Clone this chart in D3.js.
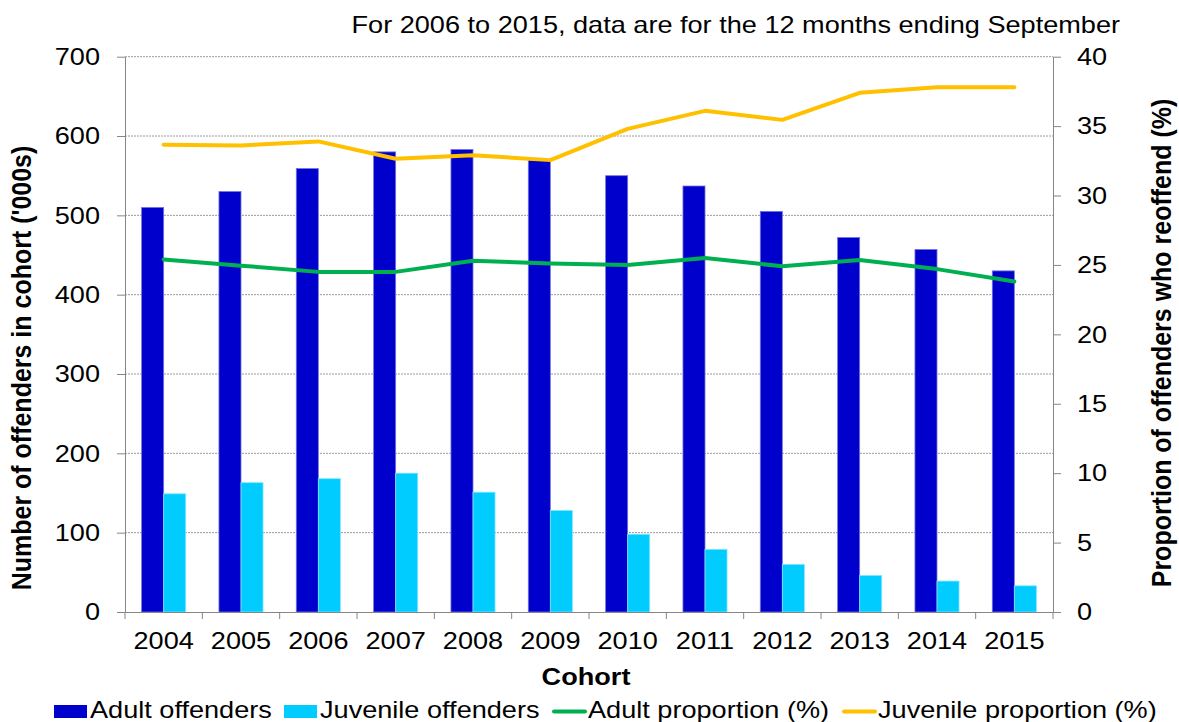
<!DOCTYPE html>
<html>
<head>
<meta charset="utf-8">
<script src="https://cdn.jsdelivr.net/npm/d3@7"></script>
<style>
  body { margin: 0; background: #fff; }
  svg text { font-family: "Liberation Sans", Arial, sans-serif; fill: #000; }
</style>
</head>
<body>
<svg id="chart" width="1179" height="722"></svg>
<script>
// cohort years
const years = ["2004", "2005", "2006", "2007", "2008", "2009", "2010", "2011", "2012", "2013", "2014", "2015"];

// offenders in cohort ('000s)
const adultOffenders = [510, 530, 559, 580, 583, 570, 550, 537, 505, 472, 457, 430];
const juvenileOffenders = [149, 163, 168, 175, 151, 128, 98, 79, 60, 46, 39, 33];

// proportion who reoffend (%)
const adultProportion = [25.4, 24.95, 24.5, 24.5, 25.3, 25.1, 25.0, 25.5, 24.9, 25.35, 24.7, 23.8];
const juvenileProportion = [33.65, 33.6, 33.9, 32.65, 32.9, 32.55, 34.8, 36.1, 35.45, 37.4, 37.8, 37.8];

const leftTicks = [0, 100, 200, 300, 400, 500, 600, 700];
const rightTicks = [0, 5, 10, 15, 20, 25, 30, 35, 40];

const svg = d3.select("#chart");
const plot = { left: 125, right: 1053, top: 56.7, bottom: 612 };
const stretch = 1.13;   // text in the original is a little wide

const x = d3.scaleBand().domain(years).range([plot.left, plot.right]);
const bw = x.bandwidth();
const x1 = d3.scaleBand().domain(["adult", "juvenile"]).range([bw * 0.215, bw * 0.785]);
const yLeft = d3.scaleLinear().domain([0, 700]).range([plot.bottom, plot.top]);
const yRight = d3.scaleLinear().domain([0, 40]).range([plot.bottom, plot.top]);

// gridlines
svg.append("g")
  .selectAll("line")
  .data(leftTicks.filter(d => d > 0))
  .enter().append("line")
  .attr("x1", plot.left).attr("x2", plot.right)
  .attr("y1", d => yLeft(d)).attr("y2", d => yLeft(d))
  .attr("stroke", "#9a9a9a")
  .attr("stroke-width", 1)
  .attr("stroke-dasharray", "2,1");

// bars
const rows = years.map((yr, i) => ({ year: yr, adult: adultOffenders[i], juvenile: juvenileOffenders[i] }));
const colors = { adult: "#0000CC", juvenile: "#00CCFF" };
const strokes = { adult: "#7373e0", juvenile: "#80e6ff" };

svg.append("g")
  .selectAll("g")
  .data(rows)
  .enter().append("g")
  .attr("transform", d => `translate(${x(d.year)},0)`)
  .selectAll("rect")
  .data(d => ["adult", "juvenile"].map(k => ({ key: k, value: d[k] })))
  .enter().append("rect")
  .attr("x", d => x1(d.key))
  .attr("width", x1.bandwidth())
  .attr("y", d => yLeft(d.value))
  .attr("height", d => yLeft(0) - yLeft(d.value))
  .attr("fill", d => colors[d.key])
  .attr("stroke", d => strokes[d.key])
  .attr("stroke-width", 0.8);

// axes
function styleAxis(g) {
  g.select(".domain").attr("stroke", "#868686");
  g.selectAll(".tick line").attr("stroke", "#868686");
  g.selectAll("text").attr("font-size", 24);
}

const leftAxis = svg.append("g")
  .attr("transform", `translate(${plot.left},0)`)
  .call(d3.axisLeft(yLeft).tickValues(leftTicks).tickSize(8).tickSizeOuter(0).tickPadding(17))
  .call(styleAxis);
leftAxis.selectAll("text")
  .attr("x", -25 / stretch)
  .attr("transform", `scale(${stretch},1)`);

const rightAxis = svg.append("g")
  .attr("transform", `translate(${plot.right},0)`)
  .call(d3.axisRight(yRight).tickValues(rightTicks).tickSize(8).tickSizeOuter(0).tickPadding(16))
  .call(styleAxis);
rightAxis.selectAll("text")
  .attr("x", 24 / stretch)
  .attr("transform", `scale(${stretch},1)`);

const bottomAxis = svg.append("g")
  .attr("transform", `translate(0,${plot.bottom})`)
  .call(d3.axisBottom(x).tickSize(0).tickSizeOuter(0))
  .call(styleAxis);
bottomAxis.selectAll("text")
  .attr("y", 37).attr("dy", 0)
  .attr("transform", `scale(${stretch},1)`)
  .attr("x", function () { return 0; });
// re-centre the stretched labels on their bands
bottomAxis.selectAll(".tick").each(function () {
  const t = d3.select(this).attr("transform");
  const cx = +t.match(/translate\(([-\d.]+)/)[1];
  d3.select(this).attr("transform", `translate(${cx},0)`);
});
// category boundary ticks
bottomAxis.append("g")
  .selectAll("line")
  .data(years.map(d => x(d)).concat([plot.right]))
  .enter().append("line")
  .attr("x1", d => d).attr("x2", d => d)
  .attr("y1", 0).attr("y2", 7)
  .attr("stroke", "#868686");

// lines
const line = d3.line()
  .x((d, i) => x(years[i]) + bw / 2)
  .y(d => yRight(d));

svg.append("path")
  .datum(adultProportion)
  .attr("d", line)
  .attr("fill", "none")
  .attr("stroke", "#00B050")
  .attr("stroke-width", 4)
  .attr("stroke-linecap", "round")
  .attr("stroke-linejoin", "round");

svg.append("path")
  .datum(juvenileProportion)
  .attr("d", line)
  .attr("fill", "none")
  .attr("stroke", "#FFC000")
  .attr("stroke-width", 4)
  .attr("stroke-linecap", "round")
  .attr("stroke-linejoin", "round");

// titles
function stretchedText(px, py, str, anchor, weight) {
  return svg.append("text")
    .attr("transform", `translate(${px},${py}) scale(${stretch},1)`)
    .attr("text-anchor", anchor)
    .attr("font-size", 24)
    .attr("font-weight", weight || "normal")
    .text(str);
}

stretchedText(1120, 33, "For 2006 to 2015, data are for the 12 months ending September", "end");
stretchedText((plot.left + plot.right) / 2 - 3, 685, "Cohort", "middle", "bold");

svg.append("text")
  .attr("transform", `translate(31,368) rotate(-90) scale(1,${stretch})`)
  .attr("text-anchor", "middle")
  .attr("font-size", 25)
  .attr("font-weight", "bold")
  .text("Number of offenders in cohort ('000s)");

svg.append("text")
  .attr("transform", `translate(1153,343) rotate(90) scale(1,${stretch})`)
  .attr("text-anchor", "middle")
  .attr("font-size", 25)
  .attr("font-weight", "bold")
  .text("Proportion of offenders who reoffend (%)")
  .attr("transform", `translate(1171,343) rotate(-90) scale(1,${stretch})`);

// legend
const legendItems = [
  { label: "Adult offenders", type: "rect", color: "#0000CC" },
  { label: "Juvenile offenders", type: "rect", color: "#00CCFF" },
  { label: "Adult proportion (%)", type: "line", color: "#00B050" },
  { label: "Juvenile proportion (%)", type: "line", color: "#FFC000" }
];
const legendStarts = [54, 284, 552, 842];
const legend = svg.append("g");
legendItems.forEach((item, i) => {
  const lx = legendStarts[i];
  if (item.type === "rect") {
    legend.append("rect")
      .attr("x", lx).attr("y", 705)
      .attr("width", 33).attr("height", 13)
      .attr("fill", item.color);
  } else {
    legend.append("line")
      .attr("x1", lx + 2).attr("x2", lx + 33)
      .attr("y1", 711.5).attr("y2", 711.5)
      .attr("stroke", item.color)
      .attr("stroke-width", 4)
      .attr("stroke-linecap", "round");
  }
  legend.append("text")
    .attr("transform", `translate(${lx + 36},718) scale(${stretch},1)`)
    .attr("font-size", 24)
    .text(item.label);
});
</script>
</body>
</html>
